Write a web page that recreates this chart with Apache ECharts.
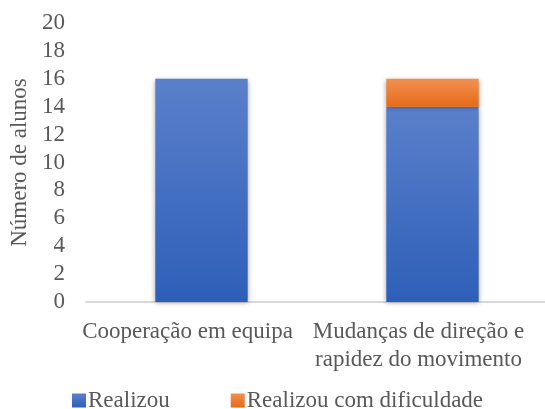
<!DOCTYPE html>
<html style="height: 100%">
    <head>
        <title>Número de alunos</title>
        <meta charset="utf-8">
    </head>
    <body style="height: 100%; margin: 0; background: #fff">
        <div id="container" style="height: 100%"></div>

        <script type="text/javascript" src="https://cdn.jsdelivr.net/npm/echarts@6/dist/echarts.min.js"></script>
        <script type="text/javascript">
            var categories = ['Cooperação em equipa', 'Mudanças de direção e\nrapidez do movimento'];
            var realizou = [16, 14];
            var comDificuldade = [0, 2];
            var seriesNames = ['Realizou', 'Realizou com dificuldade'];

            var dom = document.getElementById("container");
            var myChart = echarts.init(dom);
            var font = '"Liberation Serif", "Times New Roman", serif';
            var grey = '#595959';
            var fs = 23;

            function grad(top, bottom) {
                return new echarts.graphic.LinearGradient(0, 0, 0, 1, [
                    { offset: 0, color: top },
                    { offset: 1, color: bottom }
                ]);
            }

            var barStyle = {
                shadowBlur: 5,
                shadowColor: 'rgba(0,0,0,0.35)',
                shadowOffsetY: 1
            };

            var option = {
                animation: false,
                textStyle: { fontFamily: font },
                grid: {
                    left: 86,
                    width: 462,
                    top: 23,
                    bottom: 107,
                    containLabel: false,
                    outerBoundsMode: 'none'
                },
                legend: {
                    left: 67,
                    top: 384,
                    itemWidth: 14,
                    itemHeight: 14,
                    itemGap: 61,
                    icon: 'rect',
                    textStyle: { color: grey, fontSize: fs, fontFamily: font, padding: [0, 0, 0, -3] },
                    data: seriesNames
                },
                xAxis: {
                    type: 'category',
                    data: categories,
                    axisLine: { lineStyle: { color: '#d9d9d9', width: 2 } },
                    axisTick: { show: false },
                    axisLabel: {
                        color: grey,
                        fontSize: fs,
                        fontFamily: font,
                        lineHeight: 28,
                        margin: 16,
                        padding: [0, 28, 0, 0],
                        interval: 0
                    }
                },
                yAxis: {
                    type: 'value',
                    min: 0,
                    max: 20,
                    interval: 2,
                    name: 'Número de alunos',
                    nameLocation: 'middle',
                    nameRotate: 90,
                    nameGap: 55,
                    nameTextStyle: { color: grey, fontSize: fs, fontFamily: font },
                    axisLine: { show: false },
                    axisTick: { show: false },
                    splitLine: { show: false },
                    axisLabel: { color: grey, fontSize: fs, fontFamily: font, margin: 21 }
                },
                series: [{
                    name: seriesNames[0],
                    type: 'bar',
                    stack: 'total',
                    barWidth: '40%',
                    data: realizou,
                    itemStyle: Object.assign({ color: grad('#5b80cb', '#2e5fb8') }, barStyle)
                }, {
                    name: seriesNames[1],
                    type: 'bar',
                    stack: 'total',
                    barWidth: '40%',
                    data: comDificuldade,
                    itemStyle: Object.assign({ color: grad('#f19050', '#e86a18') }, barStyle)
                }]
            };

            if (option && typeof option === 'object') {
                myChart.setOption(option);
            }
            window.onresize = function () {
                myChart.resize();
            }
        </script>
    </body>
</html>
